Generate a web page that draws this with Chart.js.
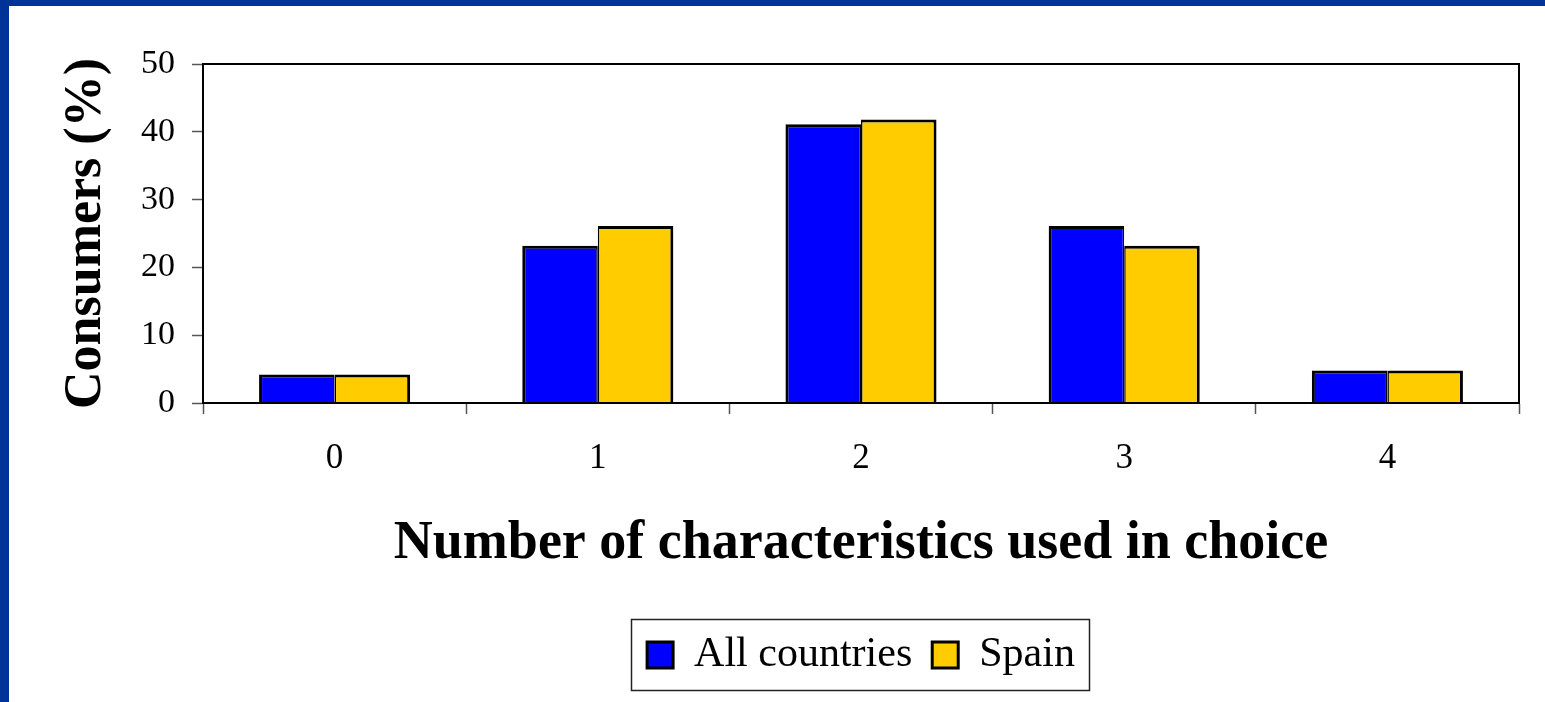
<!DOCTYPE html>
<html>
<head>
<meta charset="utf-8">
<title>Number of characteristics used in choice</title>
<script src="https://cdn.jsdelivr.net/npm/chart.js@4/dist/chart.umd.min.js"></script>
<style>
  html, body { margin: 0; padding: 0; background: #ffffff; }
  canvas { display: block; }
</style>
</head>
<body>
<canvas id="chart" width="1545" height="702"></canvas>
<script>
// Share of consumers by how many product characteristics they used when choosing
const categories = ['0', '1', '2', '3', '4'];
const allCountries = [4.2, 23.2, 41.1, 26.1, 4.8];
const spain = [4.2, 26.1, 41.8, 23.2, 4.8];
const yTicks = [0, 10, 20, 30, 40, 50];

const serif = '"Liberation Serif", "Times New Roman", serif';

// Blue frame along the top and left edges, plus the box around the plot area and legend
const framePlugin = {
  id: 'frames',
  beforeDraw(chart) {
    const ctx = chart.ctx;
    ctx.save();
    ctx.fillStyle = '#ffffff';
    ctx.fillRect(0, 0, chart.width, chart.height);
    ctx.fillStyle = '#003399';
    ctx.fillRect(0, 0, chart.width, 6);
    ctx.fillRect(0, 0, 9, chart.height);
    ctx.restore();
  },
  afterDatasetsDraw(chart) {
    const {ctx, chartArea} = chart;
    ctx.save();
    ctx.strokeStyle = '#000000';
    ctx.lineWidth = 2;
    ctx.strokeRect(chartArea.left, chartArea.top, chartArea.right - chartArea.left, chartArea.bottom - chartArea.top);
    ctx.restore();
  },
  afterDraw(chart) {
    const boxes = chart.legend && chart.legend.legendHitBoxes;
    if (!boxes || !boxes.length) return;
    const first = boxes[0];
    const last = boxes[boxes.length - 1];
    const x0 = first.left - 16;
    const x1 = last.left + last.width + 14;
    const y0 = first.top - 15;
    const y1 = first.top + first.height + 14;
    const ctx = chart.ctx;
    ctx.save();
    ctx.strokeStyle = '#222222';
    ctx.lineWidth = 1.5;
    ctx.strokeRect(Math.round(x0) + 0.5, Math.round(y0) + 0.5, Math.round(x1 - x0), Math.round(y1 - y0));
    ctx.restore();
  }
};

new Chart(document.getElementById('chart'), {
  type: 'bar',
  data: {
    labels: categories,
    datasets: [
      {
        label: 'All countries',
        data: allCountries,
        backgroundColor: '#0000ff',
        borderColor: '#000000',
        borderWidth: { top: 3, left: 3, right: 1.5, bottom: 0 },
        borderSkipped: 'bottom',
        barPercentage: 1.0,
        categoryPercentage: 0.574
      },
      {
        label: 'Spain',
        data: spain,
        backgroundColor: '#ffcc00',
        borderColor: '#000000',
        borderWidth: { top: 3, left: 1.5, right: 3, bottom: 0 },
        borderSkipped: 'bottom',
        barPercentage: 1.0,
        categoryPercentage: 0.574
      }
    ]
  },
  options: {
    responsive: false,
    animation: false,
    devicePixelRatio: 1,
    layout: { padding: { left: 0, top: 64, right: 26, bottom: 16 } },
    plugins: {
      tooltip: { enabled: false },
      title: { display: false },
      legend: {
        display: true,
        position: 'bottom',
        fullSize: false,
        align: 'center',
        labels: {
          color: '#000000',
          font: { family: serif, size: 42 },
          boxWidth: 26,
          boxHeight: 26,
          padding: 20,
          generateLabels(chart) {
            return chart.data.datasets.map((ds, i) => ({
              text: ds.label,
              fillStyle: ds.backgroundColor,
              strokeStyle: '#000000',
              lineWidth: 3,
              hidden: !chart.isDatasetVisible(i),
              datasetIndex: i,
              fontColor: '#000000'
            }));
          }
        }
      }
    },
    scales: {
      x: {
        offset: true,
        grid: {
          offset: true,
          drawOnChartArea: false,
          drawTicks: true,
          tickLength: 11,
          tickColor: '#555555',
          tickWidth: 1.5
        },
        border: { display: true, color: '#000000', width: 2 },
        ticks: {
          color: '#000000',
          font: { family: serif, size: 35 },
          padding: 24,
          maxRotation: 0
        },
        title: {
          display: true,
          text: 'Number of characteristics used in choice',
          color: '#000000',
          font: { family: serif, size: 54, weight: 'bold' },
          padding: { top: 0, bottom: 38 }
        },
        afterFit(scale) { scale.height = 211; }
      },
      y: {
        min: 0,
        max: 50,
        afterBuildTicks(scale) { scale.ticks = yTicks.map(v => ({ value: v })); },
        grid: {
          drawOnChartArea: false,
          drawTicks: true,
          tickLength: 11,
          tickColor: '#555555',
          tickWidth: 1.5
        },
        border: { display: true, color: '#000000', width: 2 },
        ticks: {
          color: '#000000',
          font: { family: serif, size: 34 },
          padding: 17
        },
        title: {
          display: true,
          text: 'Consumers (%)',
          color: '#000000',
          font: { family: serif, size: 52, weight: 'bold' },
          padding: { top: 55, bottom: 0 }
        },
        afterFit(scale) { scale.width = 203; }
      }
    }
  },
  plugins: [framePlugin]
});
</script>
</body>
</html>
